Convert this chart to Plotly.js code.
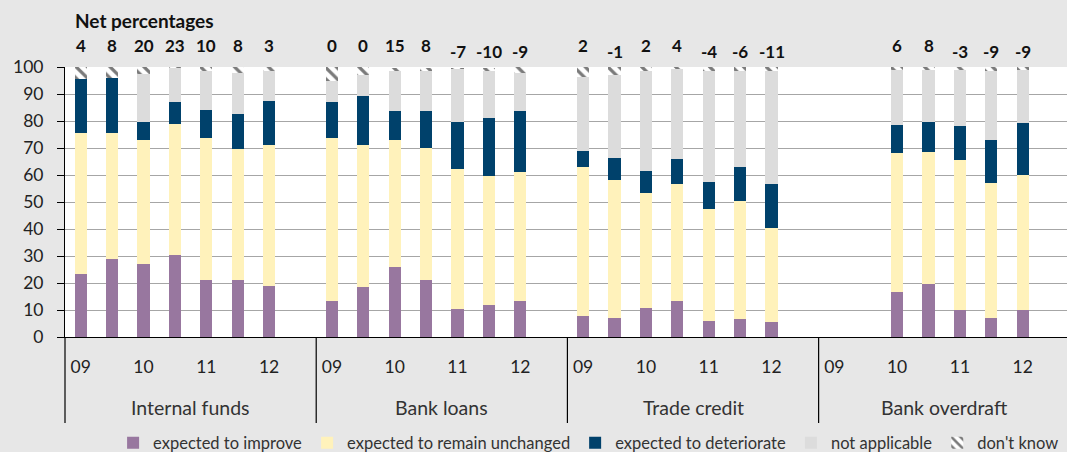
<!DOCTYPE html>
<html><head><meta charset="utf-8">
<script src="https://cdn.plot.ly/plotly-3.0.1.min.js"></script>
<style>html,body{margin:0;padding:0;background:#e7e7e7;} #chart{width:1067px;height:452px;}</style>
</head><body><div id="chart"></div>
<script>
// categories
const groups = ['Internal funds', 'Bank loans', 'Trade credit', 'Bank overdraft'];
const yearLabels = ['09', '', '10', '', '11', '', '12', ''];
const seriesNames = ['expected to improve', 'expected to remain unchanged', 'expected to deteriorate', 'not applicable', "don't know"];

// values (percent of respondents), 8 half-year slots per group, null = no data
const improve = [23.5, 28.8, 27, 30.5, 21, 21, 19, null,
                 13.5, 18.5, 26, 21, 10.5, 12, 13.5, null,
                 7.8, 7, 10.7, 13.5, 5.9, 6.7, 5.6, null,
                 null, null, 16.5, 19.5, 10, 7, 10, null];
const unchanged = [51.9, 46.6, 46, 48.5, 52.6, 48.5, 52.1, null,
                   60.1, 52.6, 47.1, 49.1, 51.8, 47.5, 47.5, null,
                   55.2, 51.1, 42.6, 43.2, 41.5, 43.7, 34.8, null,
                   null, null, 51.5, 49, 55.5, 50, 50, null];
const deteriorate = [20.2, 20.5, 6.5, 7.9, 10.5, 13.1, 16.3, null,
                     13.3, 18, 10.5, 13.5, 17.4, 21.6, 22.6, null,
                     5.9, 8.2, 8.2, 9.2, 10, 12.6, 16.3, null,
                     null, null, 10.6, 11.2, 12.8, 16.1, 19.3, null];
const notApplicable = [0, 0, 17.8, 12.8, 14.3, 15.2, 11.3, null,
                       8, 7.8, 15, 15.1, 19.4, 17.6, 14.2, null,
                       27.4, 30.6, 37.2, 33.3, 41.3, 35.7, 42, null,
                       null, null, 20.4, 19.3, 20.7, 25.3, 19.7, null];
const dontKnow = [4.4, 4.1, 2.7, 0.3, 1.6, 2.2, 1.3, null,
                  5.1, 3.1, 1.2, 1.1, 0.7, 1.1, 2.2, null,
                  3.7, 3.1, 1.3, 0.8, 1.3, 1.3, 1.3, null,
                  null, null, 1, 1, 1, 1.6, 1, null];
const netPct = [4, 8, 20, 23, 10, 8, 3, null,
                0, 0, 15, 8, -7, -10, -9, null,
                2, -1, 2, 4, -4, -6, -11, null,
                null, null, 6, 8, -3, -9, -9, null];

const FONT = 'Lato, "Open Sans", sans-serif';
const nSlots = groups.length * yearLabels.length;
const xs = Array.from({length: nSlots}, (_, i) => i);

const colors = ['#98779f', '#fff2bb', '#00416b', '#dcdcdc', '#ffffff'];
const values = [improve, unchanged, deteriorate, notApplicable, dontKnow];

const traces = values.map((v, k) => {
  const t = {
    type: 'bar', x: xs, y: v, name: seriesNames[k], width: 0.39,
    marker: {color: colors[k], line: {width: 0}},
    hoverinfo: 'skip'
  };
  if (k === 4) {
    t.marker.pattern = {shape: '\\', fgcolor: '#7a7a7a', bgcolor: '#ffffff', size: 8, solidity: 0.4};
  }
  return t;
});

const tickvals = [], ticktext = [];
for (let g = 0; g < groups.length; g++) {
  yearLabels.forEach((lab, j) => { if (lab) { tickvals.push(g * yearLabels.length + j); ticktext.push(lab); } });
}

const annotations = [];
annotations.push({xref: 'paper', x: 0, xshift: 8, xanchor: 'left', yref: 'paper', y: 1, yshift: 47, yanchor: 'middle',
  text: '<b>Net percentages</b>', showarrow: false, font: {family: FONT, size: 19, color: '#111'}});
netPct.forEach((v, i) => {
  if (v === null) return;
  annotations.push({xref: 'x', x: i, yref: 'paper', y: 1, yshift: v < 0 ? 16 : 22, yanchor: 'middle',
    text: '<b>' + v + '</b>', showarrow: false, font: {family: FONT, size: 17, color: '#111'}});
});
groups.forEach((g, k) => {
  annotations.push({xref: 'x', x: k * yearLabels.length + (yearLabels.length - 1) / 2, yref: 'paper', y: 0, yshift: -70,
    yanchor: 'middle', text: g, showarrow: false, font: {family: FONT, size: 19.5, color: '#333'}});
});

const shapes = [{type: 'line', xref: 'paper', x0: 0, x1: 0, yref: 'paper', y0: 0, y1: -0.3185,
  line: {color: '#000', width: 1.2}}];
for (let g = 1; g < groups.length; g++) {
  const xv = g * yearLabels.length - 0.5;
  shapes.push({type: 'line', xref: 'x', x0: xv, x1: xv, yref: 'paper', y0: 0, y1: -0.3185,
    line: {color: '#000', width: 1.2}});
}

const layout = {
  width: 1067, height: 452,
  margin: {l: 65, r: 0, t: 67, b: 115, autoexpand: false},
  paper_bgcolor: '#e7e7e7', plot_bgcolor: '#ffffff',
  barmode: 'stack',
  font: {family: FONT, color: '#222'},
  xaxis: {range: [-0.5, 31.41], tickvals: tickvals, ticktext: ticktext, ticks: '', showgrid: false, zeroline: false,
    showline: true, linecolor: '#000', linewidth: 1, tickfont: {family: FONT, size: 17.5, color: '#222'},
    ticklabelstandoff: 14, fixedrange: true, automargin: false},
  yaxis: {range: [0, 100], dtick: 10, ticks: 'outside', ticklen: 7, tickcolor: '#000', tickwidth: 1,
    showline: true, linecolor: '#000', linewidth: 1, gridcolor: '#a6a6a6', gridwidth: 1, zeroline: false,
    tickfont: {family: FONT, size: 17.5, color: '#222'}, ticklabelstandoff: 10, fixedrange: true, automargin: false},
  showlegend: true,
  legend: {orientation: 'h', x: 0.048, xanchor: 'left', y: -0.393, yanchor: 'middle', traceorder: 'normal',
    font: {family: FONT, size: 16.5, color: '#333'}, bgcolor: 'rgba(0,0,0,0)'},
  annotations: annotations,
  shapes: shapes
};

Plotly.newPlot('chart', traces, layout, {staticPlot: true, displayModeBar: false});
</script>
</body></html>
